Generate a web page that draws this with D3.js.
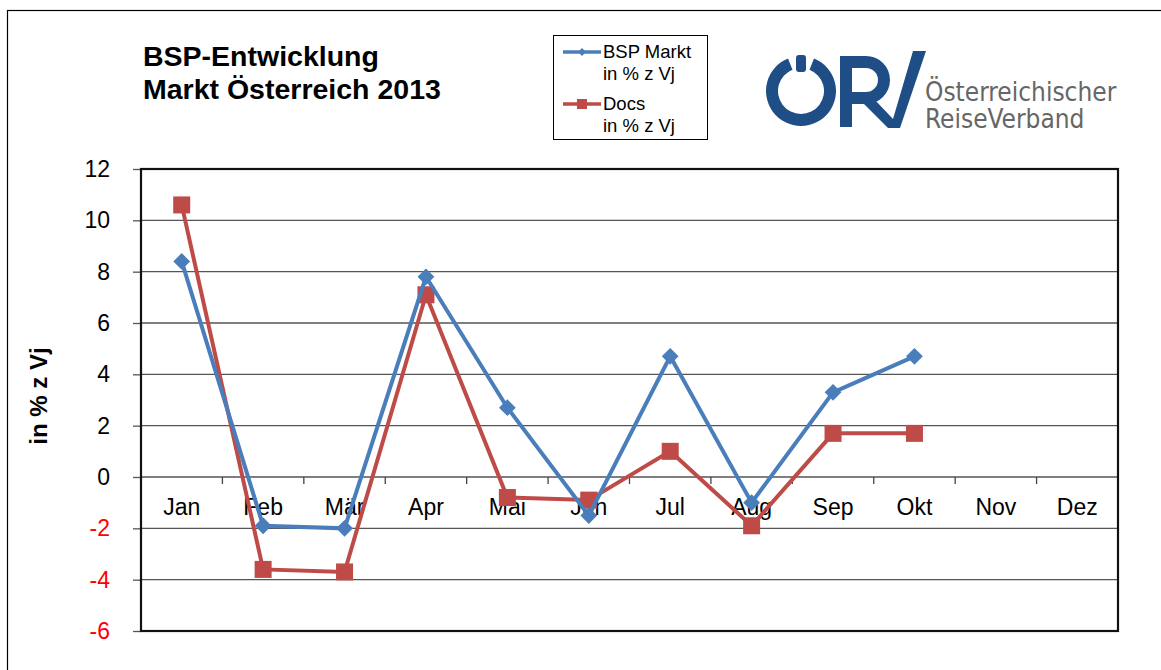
<!DOCTYPE html>
<html>
<head>
<meta charset="utf-8">
<script src="https://cdn.jsdelivr.net/npm/d3@7"></script>
<style>
  body { margin: 0; background: #fff; }
  svg { display: block; font-family: "Liberation Sans", Arial, sans-serif; }
</style>
</head>
<body>
<script>
// chart data
const months = ["Jan", "Feb", "Mär", "Apr", "Mai", "Jun", "Jul", "Aug", "Sep", "Okt", "Nov", "Dez"];
const bspMarkt = [8.4, -1.9, -2.0, 7.8, 2.7, -1.5, 4.7, -1.0, 3.3, 4.7];
const docs = [10.6, -3.6, -3.7, 7.1, -0.8, -0.9, 1.0, -1.9, 1.7, 1.7];
const yTicks = [-6, -4, -2, 0, 2, 4, 6, 8, 10, 12];

const W = 1161, H = 670;
const pLeft = 141, pRight = 1118, pTop = 169, pBottom = 631;
const blue = "#4a7ebb", red = "#be4b48";

const svg = d3.select("body").append("svg")
  .attr("width", W).attr("height", H);

// outer frame
svg.append("rect")
  .attr("x", 7.5).attr("y", 10.5)
  .attr("width", W).attr("height", H)
  .attr("fill", "none").attr("stroke", "#000").attr("stroke-width", 1.2);

const x = d3.scaleBand().domain(months).range([pLeft, pRight]);
const y = d3.scaleLinear().domain([-6, 12]).range([pBottom, pTop]);

// grid lines
svg.append("g").selectAll("line")
  .data(yTicks)
  .enter().append("line")
  .attr("x1", pLeft).attr("x2", pRight)
  .attr("y1", d => y(d)).attr("y2", d => y(d))
  .attr("stroke", "#555").attr("stroke-width", 1.3);

// y axis
const yAxis = svg.append("g")
  .attr("transform", `translate(${pLeft},0)`)
  .call(d3.axisLeft(y).tickValues(yTicks).tickSize(8).tickPadding(6).tickFormat(d => String(d)));
yAxis.select(".domain").remove();
yAxis.selectAll("line").attr("stroke", "#555").attr("stroke-width", 1.3);
yAxis.selectAll("text")
  .attr("font-size", 23)
  .attr("font-family", "Liberation Sans, Arial, sans-serif")
  .attr("fill", d => d < 0 ? "#ff0000" : "#000")
  .attr("dx", -17);

// x ticks on zero line
svg.append("g").selectAll("line")
  .data(months.slice(1))
  .enter().append("line")
  .attr("x1", d => x(d)).attr("x2", d => x(d))
  .attr("y1", y(0)).attr("y2", y(0) + 7)
  .attr("stroke", "#444").attr("stroke-width", 1.3);

// x labels
svg.append("g").selectAll("text")
  .data(months)
  .enter().append("text")
  .attr("x", d => x(d) + x.bandwidth() / 2)
  .attr("y", y(0) + 38)
  .attr("text-anchor", "middle")
  .attr("font-size", 23)
  .text(d => d);

// plot frame
svg.append("rect")
  .attr("x", pLeft).attr("y", pTop)
  .attr("width", pRight - pLeft).attr("height", pBottom - pTop)
  .attr("fill", "none").attr("stroke", "#111").attr("stroke-width", 2.2);

// y axis title
svg.append("text")
  .attr("transform", "translate(47,396) rotate(-90)")
  .attr("text-anchor", "middle")
  .attr("font-size", 24).attr("font-weight", "bold")
  .text("in % z Vj");

const cx = (d, i) => x(months[i]) + x.bandwidth() / 2;
const line = d3.line().x(cx).y(d => y(d));

// Docs series
svg.append("path").datum(docs)
  .attr("d", line).attr("fill", "none")
  .attr("stroke", red).attr("stroke-width", 4);
svg.append("g").selectAll("rect")
  .data(docs).enter().append("rect")
  .attr("x", (d, i) => cx(d, i) - 8.5).attr("y", d => y(d) - 8.5)
  .attr("width", 17).attr("height", 17)
  .attr("fill", red);

// BSP Markt series
svg.append("path").datum(bspMarkt)
  .attr("d", line).attr("fill", "none")
  .attr("stroke", blue).attr("stroke-width", 4);
svg.append("g").selectAll("path")
  .data(bspMarkt).enter().append("path")
  .attr("d", d3.symbol(d3.symbolDiamond2, 180))
  .attr("transform", (d, i) => `translate(${cx(d, i)},${y(d)})`)
  .attr("fill", blue);

// title
const title = svg.append("text")
  .attr("font-size", 28.5).attr("font-weight", "bold");
title.append("tspan").attr("x", 143).attr("y", 66).text("BSP-Entwicklung");
title.append("tspan").attr("x", 143).attr("y", 99).text("Markt Österreich 2013");

// legend
const lg = svg.append("g");
lg.append("rect")
  .attr("x", 553.5).attr("y", 35.5).attr("width", 154).attr("height", 104)
  .attr("fill", "#fff").attr("stroke", "#000").attr("stroke-width", 1);
const legendItems = [
  { name: "BSP Markt", color: blue, shape: "diamond", y: 52 },
  { name: "Docs", color: red, shape: "square", y: 104 }
];
legendItems.forEach(it => {
  lg.append("line")
    .attr("x1", 563).attr("x2", 601).attr("y1", it.y).attr("y2", it.y)
    .attr("stroke", it.color).attr("stroke-width", 3.5);
  if (it.shape === "diamond") {
    lg.append("path")
      .attr("d", d3.symbol(d3.symbolDiamond2, 40))
      .attr("transform", `translate(582,${it.y})`).attr("fill", it.color);
  } else {
    lg.append("rect")
      .attr("x", 577).attr("y", it.y - 5).attr("width", 10).attr("height", 10)
      .attr("fill", it.color);
  }
  const t = lg.append("text").attr("font-size", 18.5);
  t.append("tspan").attr("x", 603).attr("y", it.y + 6).text(it.name);
  t.append("tspan").attr("x", 603).attr("y", it.y + 28).text("in % z Vj");
});

// logo
const logoBlue = "#1f4e86";
const logo = svg.append("g").attr("fill", logoBlue);
const ring = d3.arc().innerRadius(23).outerRadius(35)
  .startAngle(0.38).endAngle(2 * Math.PI - 0.38);
logo.append("path").attr("d", ring()).attr("transform", "translate(801,91)");
logo.append("rect").attr("x", 796).attr("y", 55).attr("width", 10).attr("height", 17).attr("rx", 3);
logo.append("rect").attr("x", 840).attr("y", 56).attr("width", 12).attr("height", 71);
logo.append("path")
  .attr("fill-rule", "evenodd")
  .attr("d", "M840,56 H866 A24,24 0 0 1 866,104 H852 V92 H866 A12,12 0 0 0 866,68 H852 Z");
logo.append("path")
  .attr("d", "M860,100 L875,100 L893,119 L913,51 L926,51 L900,128 L888,128 Z");

const logoText = svg.append("g")
  .attr("font-family", "DejaVu Sans Condensed, DejaVu Sans, sans-serif")
  .attr("font-weight", 300)
  .attr("font-size", 26).attr("fill", "#666");
logoText.append("text").attr("x", 925).attr("y", 101).text("Österreichischer");
logoText.append("text").attr("x", 925).attr("y", 128).text("ReiseVerband");
</script>
</body>
</html>
